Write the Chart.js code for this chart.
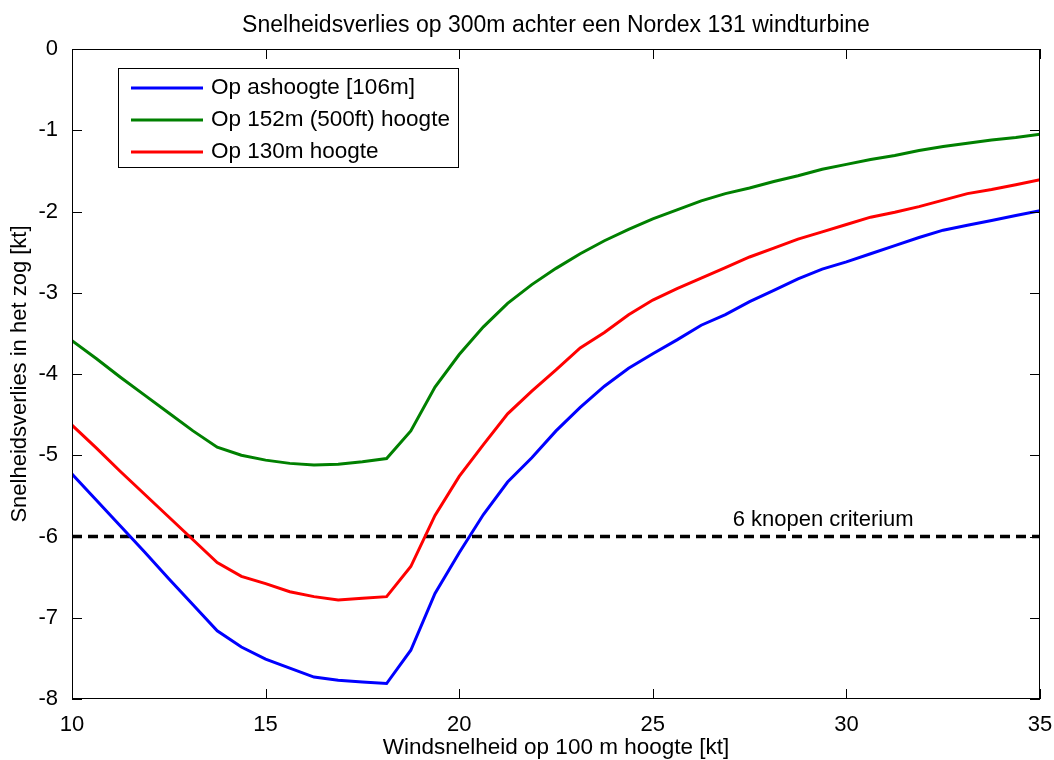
<!DOCTYPE html>
<html lang="nl">
<head>
    <meta charset="UTF-8">
    <title>Snelheidsverlies</title>
    <script src="https://cdn.jsdelivr.net/npm/chart.js@4.4.0/dist/chart.umd.min.js"></script>
    <style>
        body { margin: 0; background: #fff; }
        #wrap { width: 1054px; height: 760px; }
    </style>
</head>
<body>
    <div id="wrap">
        <canvas id="myChart" width="1054" height="760"></canvas>
    </div>

    <script>
        // Windsnelheid op 100 m hoogte [kt]
        const windSpeed = [10, 10.625, 11.25, 11.875, 12.5, 13.125, 13.75, 14.375, 15, 15.625,
            16.25, 16.875, 17.5, 18.125, 18.75, 19.375, 20, 20.625, 21.25, 21.875,
            22.5, 23.125, 23.75, 24.375, 25, 25.625, 26.25, 26.875, 27.5, 28.125,
            28.75, 29.375, 30, 30.625, 31.25, 31.875, 32.5, 33.125, 33.75, 34.375, 35];

        // snelheidsverlies [kt] per hoogte
        const lossHub = [-5.23, -5.55, -5.87, -6.19, -6.52, -6.84, -7.16, -7.36, -7.51, -7.62,
            -7.73, -7.77, -7.79, -7.81, -7.40, -6.70, -6.20, -5.73, -5.33, -5.03,
            -4.70, -4.41, -4.15, -3.93, -3.75, -3.58, -3.40, -3.27, -3.11, -2.97,
            -2.83, -2.71, -2.62, -2.52, -2.42, -2.32, -2.23, -2.17, -2.11, -2.05, -1.99];
        const loss152 = [-3.59, -3.81, -4.04, -4.26, -4.48, -4.70, -4.90, -5.00, -5.06, -5.10,
            -5.12, -5.11, -5.08, -5.04, -4.70, -4.16, -3.76, -3.42, -3.13, -2.90,
            -2.70, -2.52, -2.36, -2.22, -2.09, -1.98, -1.87, -1.78, -1.71, -1.63,
            -1.56, -1.48, -1.42, -1.36, -1.31, -1.25, -1.20, -1.16, -1.12, -1.09, -1.05];
        const loss130 = [-4.63, -4.91, -5.20, -5.48, -5.76, -6.04, -6.32, -6.49, -6.58, -6.68,
            -6.74, -6.78, -6.76, -6.74, -6.37, -5.74, -5.26, -4.87, -4.49, -4.21,
            -3.95, -3.68, -3.49, -3.27, -3.09, -2.95, -2.82, -2.69, -2.56, -2.45,
            -2.34, -2.25, -2.16, -2.07, -2.01, -1.94, -1.86, -1.78, -1.73, -1.67, -1.61];

        // 6 knopen criterium
        const criterionX = [10, 35];
        const criterionY = [-6, -6];
        const criterionText = '6 knopen criterium';
        const criterionTextAt = [29.4, -5.8];

        const seriesLabels = ['Op ashoogte [106m]', 'Op 152m (500ft) hoogte', 'Op 130m hoogte'];
        const seriesColors = ['#0000ff', '#008000', '#ff0000'];

        const FONT = '"Liberation Sans", Arial, sans-serif';
        Chart.defaults.font.family = FONT;
        Chart.defaults.color = '#000';

        function toPoints(xs, ys) {
            return xs.map((x, i) => ({ x: x, y: ys[i] }));
        }

        // box, inward ticks, title, legend and criterion label like the matlab figure
        const matlabLook = {
            id: 'matlabLook',
            afterDraw(chart) {
                const ctx = chart.ctx;
                const a = chart.chartArea;
                const xs = chart.scales.x;
                const ys = chart.scales.y;
                ctx.save();

                ctx.strokeStyle = '#000';
                ctx.lineWidth = 1;
                ctx.strokeRect(a.left + 0.5, a.top + 0.5, a.right - a.left - 1, a.bottom - a.top - 1);

                const tl = 10;
                ctx.beginPath();
                xs.ticks.forEach(t => {
                    const px = Math.round(xs.getPixelForValue(t.value)) + 0.5;
                    ctx.moveTo(px, a.bottom); ctx.lineTo(px, a.bottom - tl);
                    ctx.moveTo(px, a.top); ctx.lineTo(px, a.top + tl);
                });
                ys.ticks.forEach(t => {
                    const py = Math.round(ys.getPixelForValue(t.value)) + 0.5;
                    ctx.moveTo(a.left, py); ctx.lineTo(a.left + tl, py);
                    ctx.moveTo(a.right, py); ctx.lineTo(a.right - tl, py);
                });
                ctx.stroke();

                // title
                ctx.fillStyle = '#000';
                ctx.font = '23px ' + FONT;
                ctx.textAlign = 'center';
                ctx.textBaseline = 'middle';
                ctx.fillText('Snelheidsverlies op 300m achter een Nordex 131 windturbine', (a.left + a.right) / 2, 26);

                // criterium label
                ctx.font = '22px ' + FONT;
                ctx.fillText(criterionText, xs.getPixelForValue(criterionTextAt[0]), ys.getPixelForValue(criterionTextAt[1]));

                // legend
                const lx = 118, ly = 68, lw = 340, lh = 99;
                ctx.fillStyle = '#fff';
                ctx.fillRect(lx, ly, lw, lh);
                ctx.strokeRect(lx + 0.5, ly + 0.5, lw, lh);
                ctx.textAlign = 'left';
                ctx.font = '22.5px ' + FONT;
                chart.data.datasets.slice(0, 3).forEach((ds, i) => {
                    const y = ly + 20 + i * 32;
                    ctx.strokeStyle = ds.borderColor;
                    ctx.lineWidth = 3;
                    ctx.beginPath();
                    ctx.moveTo(lx + 13, y); ctx.lineTo(lx + 85, y);
                    ctx.stroke();
                    ctx.fillStyle = '#000';
                    ctx.fillText(ds.label, lx + 93, y);
                });
                ctx.restore();
            }
        };

        new Chart('myChart', {
            type: 'line',
            data: {
                datasets: [
                    { label: seriesLabels[0], data: toPoints(windSpeed, lossHub), borderColor: seriesColors[0] },
                    { label: seriesLabels[1], data: toPoints(windSpeed, loss152), borderColor: seriesColors[1] },
                    { label: seriesLabels[2], data: toPoints(windSpeed, loss130), borderColor: seriesColors[2] },
                    { label: 'criterium', data: toPoints(criterionX, criterionY), borderColor: '#000',
                      borderDash: [10, 6], borderWidth: 3.5 }
                ]
            },
            options: {
                responsive: false,
                animation: false,
                layout: { padding: { left: 0, right: 14, top: 49, bottom: 0 } },
                elements: {
                    line: { borderWidth: 3, tension: 0, borderCapStyle: 'butt' },
                    point: { radius: 0 }
                },
                plugins: {
                    legend: { display: false },
                    title: { display: false },
                    tooltip: { enabled: false }
                },
                scales: {
                    x: {
                        type: 'linear',
                        min: 10, max: 35,
                        grid: { display: false },
                        border: { display: false },
                        ticks: { stepSize: 5, font: { size: 22 }, padding: 5, maxRotation: 0 },
                        title: {
                            display: true,
                            text: 'Windsnelheid op 100 m hoogte [kt]',
                            font: { size: 22.5, lineHeight: 1 },
                            padding: { top: 0, bottom: 1 }
                        },
                        afterFit: s => { s.height = 61; s.paddingRight = 0; s.paddingLeft = 0; }
                    },
                    y: {
                        min: -8, max: 0,
                        grid: { display: false },
                        border: { display: false },
                        ticks: { stepSize: 1, font: { size: 22 }, padding: 6 },
                        title: {
                            display: true,
                            text: 'Snelheidsverlies in het zog [kt]',
                            font: { size: 22, lineHeight: 1 },
                            padding: { top: 9, bottom: 0 }
                        },
                        afterFit: s => { s.width = 72; s.paddingTop = 0; s.paddingBottom = 0; }
                    }
                }
            },
            plugins: [matlabLook]
        });
    </script>
</body>
</html>
